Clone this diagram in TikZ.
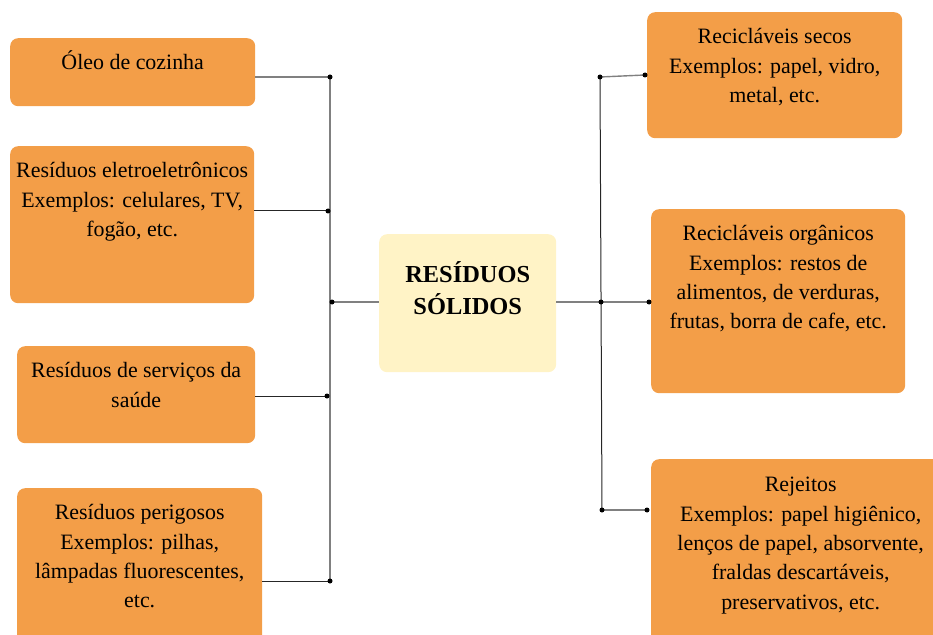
\documentclass[tikz,border=0pt]{standalone}
\usepackage{fontspec}
\setmainfont{Liberation Serif}
\usetikzlibrary{positioning}
\definecolor{boxorange}{RGB}{243,158,72}
\definecolor{coreyellow}{RGB}{255,243,198}
\definecolor{linegray}{RGB}{128,128,128}
\tikzset{
  box/.style={rectangle, rounded corners=8bp, fill=boxorange, inner sep=0pt, anchor=north west},
  core/.style={rectangle, rounded corners=8bp, fill=coreyellow, inner sep=0pt, anchor=north west},
  txt/.style={align=center, inner sep=0pt, anchor=north, text=black, font=\fontsize{22}{29.5}\selectfont},
  link/.style={draw=linegray, line width=1.4bp},
  thin/.style={draw=black!85, line width=1bp},
  dot/.style={circle, fill=black, inner sep=0pt, minimum size=5bp}
}
\begin{document}
\begin{tikzpicture}[x=1bp, y=-1bp]
	\useasboundingbox (0,0) rectangle (933,635);
	% left side
	\node[box, minimum width=245bp, minimum height=68bp] (oleo) at (10,38) {};
	\node[txt] (oleotxt) at ([yshift=-11bp]oleo.north) {\strut Óleo de cozinha};
	\node[box, minimum width=244bp, minimum height=157bp] (eletro) at (10,146) {};
	\node[txt] (eletrotxt) at ([yshift=-11bp]eletro.north) {\strut Resíduos eletroeletrônicos\\ Exemplos: celulares, TV,\\ fogão, etc.};
	\node[box, minimum width=238bp, minimum height=97bp] (saude) at (17,346) {};
	\node[txt] (saudetxt) at ([yshift=-11bp]saude.north) {\strut Resíduos de serviços da\\ saúde};
	\node[box, minimum width=245bp, minimum height=170bp] (perigo) at (17,488) {};
	\node[txt] (perigotxt) at ([yshift=-11bp]perigo.north) {\strut Resíduos perigosos\\ Exemplos: pilhas, \\ lâmpadas fluorescentes,\\ etc.};
	% center
	\node[core, minimum width=177bp, minimum height=138bp] (solidos) at (379,234) {};
	\node[txt, font=\bfseries\fontsize{24.5}{32}\selectfont] (solidostxt) at ([yshift=-26bp]solidos.north) {\strut RESÍDUOS\\ SÓLIDOS};
	% right side
	\node[box, minimum width=255bp, minimum height=126bp] (secos) at (647,12) {};
	\node[txt] (secostxt) at ([yshift=-11bp]secos.north) {\strut Recicláveis secos\\ Exemplos: papel, vidro,\\ metal, etc.};
	\node[box, minimum width=254bp, minimum height=184bp] (organicos) at (651,209) {};
	\node[txt] (organicostxt) at ([yshift=-11bp]organicos.north) {\strut Recicláveis orgânicos\\ Exemplos: restos de\\ alimentos, de verduras,\\ frutas, borra de cafe, etc.};
	\node[box, minimum width=299bp, minimum height=200bp] (rejeitos) at (651,459) {};
	\node[txt] (rejeitostxt) at ([yshift=-12bp]rejeitos.north) {\strut Rejeitos\\ Exemplos: papel higiênico,\\ lenços de papel, absorvente,\\ fraldas descartáveis,\\ preservativos, etc.};
	% junctions
	\coordinate (l1) at (330,77);
	\coordinate (l2) at (328,211);
	\coordinate (lc) at (332,302);
	\coordinate (l3) at (327,396);
	\coordinate (l4) at (330,581);
	\coordinate (rc) at (601,302);
	\coordinate (r1) at (600,77);
	\coordinate (r3) at (602,510);
	\coordinate (e1) at (645,75);
	\coordinate (e2) at (649,302);
	\coordinate (e3) at (647,510);
	% connectors
	\draw[link] (330,77 |- l1) -- (330,581 |- l4);
	\draw[link] (oleo.east |- l1) -- (l1);
	\draw[thin] (eletro.east |- l2) -- (l2);
	\draw[link] (lc) -- (solidos.west |- lc);
	\draw[thin] (saude.east |- l3) -- (l3);
	\draw[thin] (perigo.east |- l4) -- (l4);
	\draw[link] (solidos.east |- rc) -- (rc);
	\draw[thin] (r1) -- (r3);
	\draw[link] (r1) -- (e1);
	\draw[link] (rc) -- (e2);
	\draw[link] (r3) -- (e3);
	% dots
	\foreach \p in {l1,l2,lc,l3,l4,rc,r1,r3,e1,e2,e3}
		\node[dot] at (\p) {};
\end{tikzpicture}
\end{document}
